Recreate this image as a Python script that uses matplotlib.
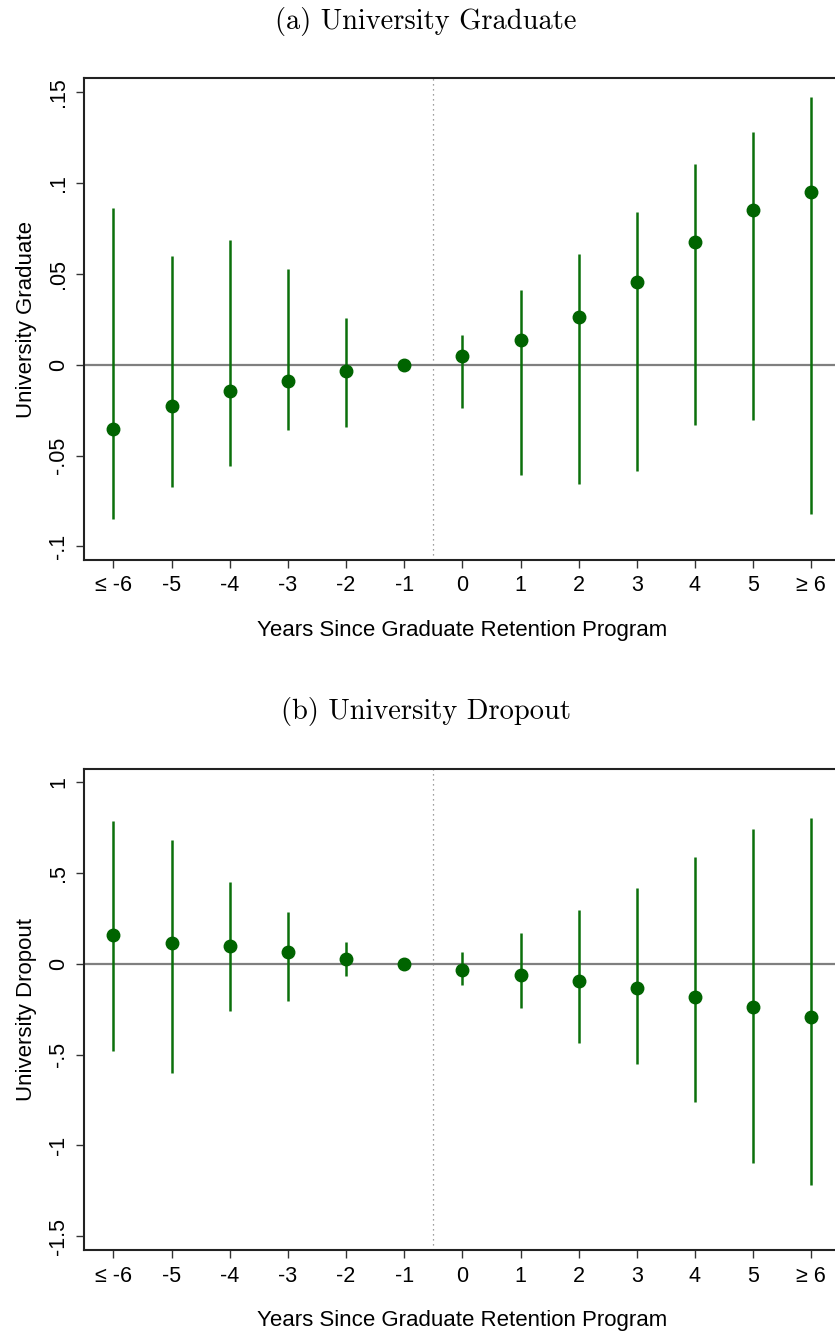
import matplotlib
matplotlib.use('Agg')
import matplotlib.pyplot as plt

plt.rcParams['font.family'] = ['Liberation Sans', 'DejaVu Sans']

# event-time categories
labels = ['\u2264 -6', '-5', '-4', '-3', '-2', '-1', '0', '1', '2', '3', '4', '5', '\u2265 6']

# (a) university graduate: point estimates and 95% CI bounds
grad_coef = [-0.0356, -0.0229, -0.0143, -0.0088, -0.0033, 0.0, 0.0050, 0.0134, 0.0261, 0.0454, 0.0677, 0.0852, 0.0951]
grad_hi = [0.0865, 0.0600, 0.0687, 0.0529, 0.0257, 0.0, 0.0164, 0.0411, 0.0611, 0.0839, 0.1103, 0.1281, 0.1472]
grad_lo = [-0.0850, -0.0673, -0.0556, -0.0360, -0.0341, 0.0, -0.0237, -0.0606, -0.0659, -0.0584, -0.0332, -0.0306, -0.0824]

# (b) university dropout
drop_coef = [0.158, 0.114, 0.096, 0.064, 0.028, 0.0, -0.033, -0.061, -0.095, -0.136, -0.185, -0.237, -0.293]
drop_hi = [0.787, 0.679, 0.451, 0.285, 0.119, 0.0, 0.063, 0.169, 0.294, 0.415, 0.587, 0.740, 0.800]
drop_lo = [-0.482, -0.600, -0.259, -0.204, -0.068, 0.0, -0.117, -0.242, -0.435, -0.554, -0.759, -1.095, -1.220]

grad_ticks = [-0.1, -0.05, 0, 0.05, 0.1, 0.15]
grad_ticklabels = ['-.1', '-.05', '0', '.05', '.1', '.15']
drop_ticks = [-1.5, -1, -0.5, 0, 0.5, 1]
drop_ticklabels = ['-1.5', '-1', '-.5', '0', '.5', '1']

W, H = 835, 1332
fig = plt.figure(figsize=(W / 100, H / 100), dpi=100)

ci_color = '#0b700b'
pt_color = '#006400'


def panel(rect, coef, lo, hi, ticks, ticklabels, ylim, ylabel):
    ax = fig.add_axes(rect)
    x = list(range(len(labels)))
    ax.axhline(0, color='#7f7f7f', lw=1.6, zorder=1)
    ax.axvline(5.5, color='#808080', lw=0.9, ls=(0, (1, 3)), zorder=1)
    ax.vlines(x, lo, hi, color=ci_color, lw=1.8, zorder=2)
    ax.plot(x, coef, 'o', color=pt_color, ms=9, zorder=3)
    ax.set_xlim(-0.5, 12.5)
    ax.set_ylim(*ylim)
    ax.set_xticks(x)
    ax.set_xticklabels(labels, fontsize=15.5)
    ax.set_yticks(ticks)
    ax.set_yticklabels(ticklabels, fontsize=15.5, rotation=90, va='center')
    ax.tick_params(length=6, width=1, color='#333333', pad=5)
    for s in ax.spines.values():
        s.set_linewidth(1.5)
        s.set_color('#222222')
    ax.set_xlabel('Years Since Graduate Retention Program', fontsize=16, labelpad=17)
    ax.set_ylabel(ylabel, fontsize=16, labelpad=8)
    return ax


left = 84.3 / W
width = (840.4 - 84.3) / W

panel([left, 1 - 560 / H, width, (560 - 78.3) / H], grad_coef, grad_lo, grad_hi,
      grad_ticks, grad_ticklabels, (-0.1075, 0.1577), 'University Graduate')
panel([left, 1 - 1250.3 / H, width, (1250.3 - 769) / H], drop_coef, drop_lo, drop_hi,
      drop_ticks, drop_ticklabels, (-1.577, 1.0715), 'University Dropout')

fig.text(426 / W, 1 - 21 / H, '(a) University Graduate', family='cmr10', fontsize=20.5,
         ha='center', va='center')
fig.text(426 / W, 1 - 711 / H, '(b) University Dropout', family='cmr10', fontsize=20.5,
         ha='center', va='center')

fig.savefig('out.png', dpi=100)
